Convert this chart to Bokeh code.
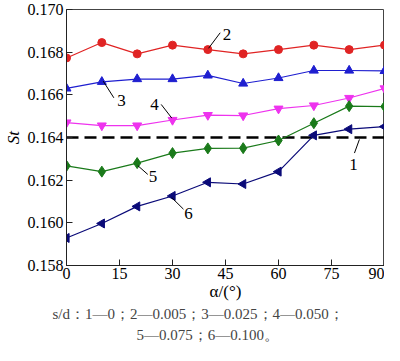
import numpy as np
from bokeh.plotting import figure
from bokeh.models import Range1d, FixedTicker, NumeralTickFormatter, Title
from bokeh.core.properties import value
from bokeh.embed import file_html
from bokeh.resources import INLINE

alpha = [0, 10, 20, 30, 40, 50, 60, 70, 80, 90]
st1 = [0.164] * 10
st2 = [0.16773, 0.16845, 0.16792, 0.16833, 0.16812, 0.16792, 0.16812, 0.16833, 0.16812, 0.16833]
st3 = [0.16630, 0.16661, 0.16674, 0.16674, 0.16691, 0.16653, 0.16679, 0.16714, 0.16714, 0.16712]
st4 = [0.16470, 0.16456, 0.16456, 0.16482, 0.16505, 0.16503, 0.16535, 0.16550, 0.16585, 0.16630]
st5 = [0.16267, 0.16240, 0.16280, 0.16327, 0.16349, 0.16350, 0.16386, 0.16467, 0.16547, 0.16545]
st6 = [0.15929, 0.15997, 0.16077, 0.16126, 0.16190, 0.16182, 0.16240, 0.16410, 0.16439, 0.16451]

x_ticks = [0, 15, 30, 45, 60, 75, 90]
y_ticks = [0.158, 0.160, 0.162, 0.164, 0.166, 0.168, 0.170]

# curve-number callouts: label, text x, text y, leader x0, y0, x1, y1
callouts = [
    ("1", 81.2, 0.16273, 82.9, 0.16391, 81.5, 0.16327),
    ("2", 45.4, 0.16882, 40.2, 0.16818, 43.5, 0.16891),
    ("3", 15.6, 0.16573, 10.4, 0.16664, 13.4, 0.16586),
    ("4", 24.9, 0.16555, 26.8, 0.16555, 29.8, 0.16491),
    ("5", 24.5, 0.16218, 20.2, 0.16268, 23.0, 0.16227),
    ("6", 34.5, 0.16045, 29.8, 0.16118, 33.1, 0.16064),
]

caption1 = "s/d：1—0；2—0.005；3—0.025；4—0.050；"
caption2 = "5—0.075；6—0.100。"

SERIF = "Liberation Serif"

p = figure(width=384, height=345, output_backend="svg", toolbar_location=None,
           x_range=Range1d(0, 90), y_range=Range1d(0.158, 0.170),
           min_border_left=55, min_border_right=0, min_border_top=9, min_border_bottom=72)
p.background_fill_color = "white"
p.border_fill_color = "white"
p.outline_line_color = "#444444"
p.outline_line_width = 1
p.xgrid.visible = False
p.ygrid.visible = False

for ax in (p.xaxis, p.yaxis):
    ax.major_tick_in = 6
    ax.major_tick_out = 0
    ax.minor_tick_line_color = None
    ax.axis_line_color = "#222222"
    ax.major_tick_line_color = "#222222"
    ax.major_label_text_font = SERIF
    ax.major_label_text_font_size = "16px"
    ax.major_label_text_color = "black"
    ax.axis_label_text_font = SERIF
    ax.axis_label_text_font_size = "17px"
    ax.axis_label_text_color = "black"

p.xaxis.ticker = FixedTicker(ticks=x_ticks)
p.yaxis.ticker = FixedTicker(ticks=y_ticks)
p.yaxis.formatter = NumeralTickFormatter(format="0.000")
p.xaxis.axis_label = "α/(°)"
p.xaxis.axis_label_text_font_style = "normal"
p.yaxis.axis_label = "St"
p.yaxis.axis_label_text_font_style = "italic"
p.xaxis.major_label_standoff = 2
p.yaxis.major_label_standoff = 3
p.xaxis.axis_label_standoff = 0
p.yaxis.axis_label_standoff = 2

# series 1 (dashed reference)
p.line(alpha, st1, line_color="black", line_width=2.5, line_dash="12 6")

series = [
    (st2, "#e02424", "circle", 0, 8),
    (st3, "#1f1fd0", "triangle", 0, 9),
    (st4, "#ee33ee", "inverted_triangle", 0, 9),
    (st5, "#1a7a1a", "diamond", 0, 11),
    (st6, "#0a0a78", "triangle", np.pi / 2, 9),
]
for ys, col, mk, ang, sz in series:
    p.line(alpha, ys, line_color=col, line_width=1.2)
    p.scatter(alpha, ys, marker=mk, size=sz, angle=ang, fill_color=col, line_color=col)

for lab, tx, ty, x0, y0, x1, y1 in callouts:
    p.segment(x0=[x0], y0=[y0], x1=[x1], y1=[y1], line_color="black", line_width=1)
    p.text(x=[tx], y=[ty], text=[lab], text_font=value(SERIF), text_font_size="17px",
           text_align="center", text_baseline="middle", text_color="black")

# caption under the axis
t1 = Title(text=caption1, align="left", offset=-14, text_font=SERIF,
           text_font_size="15px", text_font_style="normal", standoff=0)
t2 = Title(text=caption2, align="left", offset=70, text_font=SERIF,
           text_font_size="15px", text_font_style="normal", standoff=6)
p.add_layout(t1, "below")
p.add_layout(t2, "below")

open("out.html", "w").write(file_html(p, INLINE))
